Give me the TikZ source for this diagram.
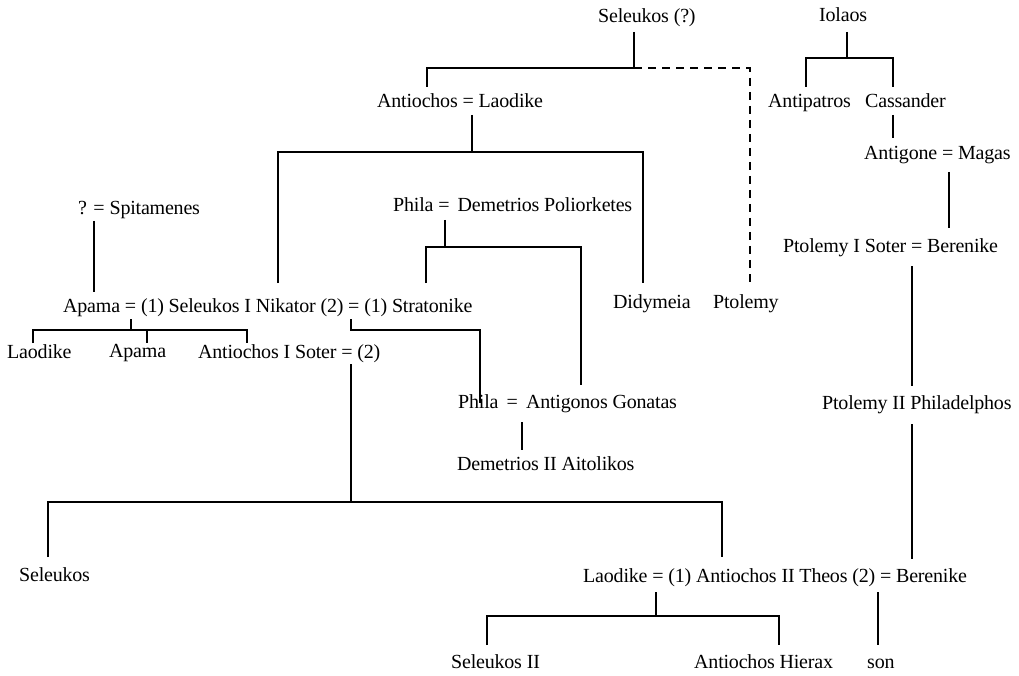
\documentclass[tikz,border=0pt]{standalone}
\usepackage{fontspec}
\setmainfont[LetterSpace=-1]{Liberation Serif}
\begin{document}
\begin{tikzpicture}[x=1pt,y=-1pt,
  person/.style={anchor=base west,inner sep=0pt,font=\fontsize{20}{24}\selectfont},
  link/.style={line width=1.1pt},
  uncertain/.style={link,dash pattern=on 8pt off 6pt}]
\useasboundingbox (0,0) rectangle (1019,676);

% --- names ---
\node[person] (selq)   at (598,23)  {Seleukos (?)};
\node[person] (iol)    at (819,22)  {Iolaos};
\node[person] (antlao) at (377,108) {Antiochos = Laodike};
\node[person] (antip)  at (768,108) {Antipatros};
\node[person] (cass)   at (865,108) {Cassander};
\node[person] (antig)  at (864,160) {Antigone = Magas};
\node[person] (spit)   at (78,215)  {? = Spitamenes};
\node[person] (phila1) at (393,212) {Phila =\, Demetrios Poliorketes};
\node[person] (ptol1)  at (783,252) {Ptolemy I Soter = Berenike};
\node[person] (nik)    at (63,312)  {Apama = (1) Seleukos I Nikator (2) = (1) Stratonike};
\node[person] (didy)   at (613,308) {Didymeia};
\node[person] (ptol)   at (713,308) {Ptolemy};
\node[person] (lao1)   at (7,358)   {Laodike};
\node[person] (apa2)   at (109,357) {Apama};
\node[person] (ant1)   at (198,358) {Antiochos I Soter = (2)};
\node[person] (phila2) at (458,408) {Phila\, =\, Antigonos Gonatas};
\node[person] (ptol2)  at (822,409) {Ptolemy II Philadelphos};
\node[person] (dem2)   at (457,470) {Demetrios II Aitolikos};
\node[person] (sel)    at (19,581)  {Seleukos};
\node[person] (theos)  at (583,582) {Laodike = (1) Antiochos II Theos (2) = Berenike};
\node[person] (sel2)   at (451,668) {Seleukos II};
\node[person] (hier)   at (694,668) {Antiochos Hierax};
\node[person] (son)    at (867,668) {son};

% --- descent lines ---
% Seleukos (?)
\draw[link] (634,32) -- (634,68) -| (427,87);
\draw[uncertain] (634,68) -| (750,283);
% Antiochos = Laodike
\draw[link] (472,115) -- (472,152);
\draw[link] (278,283) |- (643,152) -- (643,283);
% Iolaos
\draw[link] (847,32) -- (847,58);
\draw[link] (806,87) |- (893,58) -- (893,87);
% Cassander -> Antigone = Magas -> Ptolemy I Soter = Berenike
\draw[link] (893,115) -- (893,138);
\draw[link] (949,172) -- (949,228);
\draw[link] (912,266) -- (912,386);
\draw[link] (912,424) -- (912,559);
% ? = Spitamenes
\draw[link] (94,221) -- (94,292);
% Phila = Demetrios Poliorketes
\draw[link] (445,220) -- (445,247);
\draw[link] (426,283) |- (581,247) -- (581,385);
% Apama = Seleukos I Nikator
\draw[link] (131,319) -- (131,330);
\draw[link] (33,343) |- (247,330) -- (247,343);
\draw[link] (147,330) -- (147,343);
% Seleukos I Nikator = Stratonike
\draw[link] (351,319) -- (351,330) -| (480,403);
% Antiochos I Soter = Stratonike
\draw[link] (351,364) -- (351,502);
\draw[link] (48,557) |- (722,502) -- (722,557);
% Phila = Antigonos Gonatas
\draw[link] (522,422) -- (522,450);
% Antiochos II Theos
\draw[link] (656,592) -- (656,616);
\draw[link] (487,645) |- (779,616) -- (779,645);
\draw[link] (878,592) -- (878,645);
\end{tikzpicture}
\end{document}
